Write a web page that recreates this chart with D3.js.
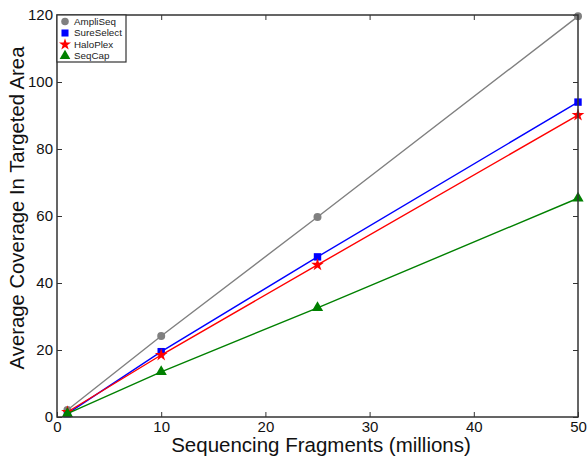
<!DOCTYPE html>
<html>
<head>
<meta charset="utf-8">
<script src="https://cdn.jsdelivr.net/npm/d3@7"></script>
<style>
  body { margin: 0; background: #fff; }
  svg { font-family: "Liberation Sans", Arial, sans-serif; }
</style>
</head>
<body>
<div id="chart"></div>
<script>
// valeurs
const fragments = [1, 10, 25, 50];
const ampliSeq = [2.1, 24.2, 59.7, 119.6];
const sureSelect = [1.0, 19.5, 47.8, 94.0];
const haloPlex = [1.5, 18.5, 45.4, 90.1];
const seqCap = [1.0, 13.5, 32.6, 65.3];
const xTicks = [0, 10, 20, 30, 40, 50];
const yTicks = [0, 20, 40, 60, 80, 100, 120];

const series = [
  { name: 'AmpliSeq', values: ampliSeq, color: '#808080', symbol: d3.symbolCircle, size: 50 },
  { name: 'SureSelect', values: sureSelect, color: '#0000ff', symbol: d3.symbolSquare, size: 55 },
  { name: 'HaloPlex', values: haloPlex, color: '#ff0000', symbol: d3.symbolStar, size: 50 },
  { name: 'SeqCap', values: seqCap, color: '#008000', symbol: d3.symbolTriangle, size: 55 }
];

const width = 587, height = 459;
const margin = { left: 57, right: 9, top: 15, bottom: 42 };
const iw = width - margin.left - margin.right;
const ih = height - margin.top - margin.bottom;

const svg = d3.select('#chart').append('svg')
  .attr('width', width)
  .attr('height', height);

const x = d3.scaleLinear().domain([0, 50]).range([margin.left, margin.left + iw]);
const y = d3.scaleLinear().domain([0, 120]).range([margin.top + ih, margin.top]);

const tickLen = 5;
const frameColor = '#333';

// ticks vers l'intérieur, sur les quatre côtés
svg.append('g')
  .attr('transform', `translate(0,${margin.top + ih})`)
  .call(d3.axisBottom(x).tickValues(xTicks).tickSizeInner(-tickLen).tickSizeOuter(0).tickPadding(4))
  .call(g => g.select('.domain').remove())
  .call(g => g.selectAll('.tick line').attr('stroke', frameColor))
  .call(g => g.selectAll('.tick text').attr('font-size', 15).attr('fill', '#111'));

svg.append('g')
  .attr('transform', `translate(0,${margin.top})`)
  .call(d3.axisTop(x).tickValues(xTicks).tickSizeInner(-tickLen).tickSizeOuter(0).tickFormat(''))
  .call(g => g.select('.domain').remove())
  .call(g => g.selectAll('.tick line').attr('stroke', frameColor));

svg.append('g')
  .attr('transform', `translate(${margin.left},0)`)
  .call(d3.axisLeft(y).tickValues(yTicks).tickSizeInner(-tickLen).tickSizeOuter(0).tickPadding(4))
  .call(g => g.select('.domain').remove())
  .call(g => g.selectAll('.tick line').attr('stroke', frameColor))
  .call(g => g.selectAll('.tick text').attr('font-size', 15).attr('fill', '#111'));

svg.append('g')
  .attr('transform', `translate(${margin.left + iw},0)`)
  .call(d3.axisRight(y).tickValues(yTicks).tickSizeInner(-tickLen).tickSizeOuter(0).tickFormat(''))
  .call(g => g.select('.domain').remove())
  .call(g => g.selectAll('.tick line').attr('stroke', frameColor));

// courbes
const line = d3.line()
  .x((d, i) => x(fragments[i]))
  .y(d => y(d));

series.forEach(s => {
  svg.append('path')
    .datum(s.values)
    .attr('fill', 'none')
    .attr('stroke', s.color)
    .attr('stroke-width', 1.4)
    .attr('d', line);

  svg.append('g')
    .selectAll('path')
    .data(s.values)
    .enter()
    .append('path')
    .attr('d', d3.symbol().type(s.symbol).size(s.size))
    .attr('fill', s.color)
    .attr('transform', (d, i) => `translate(${x(fragments[i])},${y(d)})`);
});

// cadre
svg.append('rect')
  .attr('x', margin.left)
  .attr('y', margin.top)
  .attr('width', iw)
  .attr('height', ih)
  .attr('fill', 'none')
  .attr('stroke', frameColor)
  .attr('stroke-width', 1.5);

// légende
const legend = svg.append('g').attr('transform', `translate(${margin.left},${margin.top})`);
legend.append('rect')
  .attr('width', 69)
  .attr('height', 47)
  .attr('fill', '#fff')
  .attr('stroke', frameColor)
  .attr('stroke-width', 1.2);

series.forEach((s, i) => {
  const ly = 6.5 + i * 11.5;
  legend.append('path')
    .attr('d', d3.symbol().type(s.symbol).size(s.size * 0.9))
    .attr('fill', s.color)
    .attr('transform', `translate(8,${ly})`);
  legend.append('text')
    .attr('x', 17)
    .attr('y', ly)
    .attr('dy', '0.35em')
    .attr('font-size', 9.8)
    .attr('fill', '#222')
    .text(s.name);
});

// titres des axes
svg.append('text')
  .attr('x', 321)
  .attr('y', 452)
  .attr('text-anchor', 'middle')
  .attr('font-size', 20.5)
  .attr('fill', '#111')
  .text('Sequencing Fragments (millions)');

svg.append('text')
  .attr('transform', `translate(24,208) rotate(-90)`)
  .attr('text-anchor', 'middle')
  .attr('font-size', 20.3)
  .attr('fill', '#111')
  .text('Average Coverage In Targeted Area');
</script>
</body>
</html>
